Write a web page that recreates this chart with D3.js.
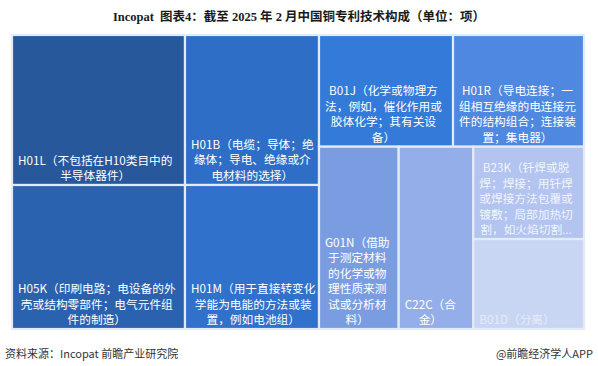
<!DOCTYPE html>
<html>
<head>
<meta charset="utf-8">
<script src="https://cdn.jsdelivr.net/npm/d3@7/dist/d3.min.js"></script>
<style>
  html, body { margin: 0; padding: 0; background: #fff; }
  svg { display: block; }
</style>
</head>
<body>
<svg id="chart" width="598" height="366"></svg>
<script>
// ---- data ----
const titleText = "Incopat  图表4：截至 2025 年 2 月中国铜专利技术构成（单位：项）";
const sourceText = "资料来源：Incopat 前瞻产业研究院";
const brandText = "@前瞻经济学人APP";

const codes = ["H01L", "H05K", "H01B", "H01M", "B01J", "H01R", "G01N", "C22C", "B23K", "B01D"];
const values = [2595, 2491, 2010, 1930, 1497, 1463, 1453, 1360, 1022, 996];
const labelLines = [
  ["H01L（不包括在H10类目中的", "半导体器件）"],
  ["H05K（印刷电路；电设备的外", "壳或结构零部件；电气元件组", "件的制造）"],
  ["H01B（电缆；导体；绝", "缘体；导电、绝缘或介", "电材料的选择）"],
  ["H01M（用于直接转变化", "学能为电能的方法或装", "置，例如电池组）"],
  ["B01J（化学或物理方", "法，例如，催化作用或", "胶体化学；其有关设", "备）"],
  ["H01R（导电连接；一", "组相互绝缘的电连接元", "件的结构组合；连接装", "置；集电器）"],
  ["G01N（借助", "于测定材料", "的化学或物", "理性质来测", "试或分析材", "料）"],
  ["C22C（合", "金）"],
  ["B23K（钎焊或脱", "焊；焊接；用钎焊", "或焊接方法包覆或", "镀敷；局部加热切", "割，如火焰切割..."],
  ["B01D（分离）"]
];
const colors = ["#28589c", "#2b62af", "#2e6ec6", "#2f71cb", "#337ad9", "#4f88e1", "#7a9de2", "#93aee8", "#b2c4ef", "#c9d6f3"];
const textOpacity = [1, 1, 1, 1, 1, 1, 1, 1, 0.85, 0.55];

// ---- layout ----
const svg = d3.select("#chart");
const W = 598, H = 366;
const plot = { x0: 12, y0: 35, x1: 584, y1: 329 };

// squarified tiling with aspect target 0.8 (built from d3 slice/dice)
function tileRef(parent, x0, y0, x1, y1) {
  const ratio = 0.8;
  const nodes = parent.children, n = nodes.length;
  let value = parent.value, i0 = 0, i1 = 0;
  while (i0 < n) {
    const dx = x1 - x0, dy = y1 - y0;
    let sum = nodes[i1++].value, minV = sum, maxV = sum;
    const alpha = Math.max(dy / dx, dx / dy) / (value * ratio);
    let beta = sum * sum * alpha;
    let minR = Math.max(maxV / beta, beta / minV);
    for (; i1 < n; ++i1) {
      const v = nodes[i1].value;
      sum += v;
      const mn = Math.min(minV, v), mx = Math.max(maxV, v);
      beta = sum * sum * alpha;
      const r = Math.max(mx / beta, beta / mn);
      if (r > minR) { sum -= v; break; }
      minV = mn; maxV = mx; minR = r;
    }
    const row = { value: sum, children: nodes.slice(i0, i1) };
    if (dx < dy) {
      const ny = y0 + dy * sum / value;
      d3.treemapDice(row, x0, y0, x1, ny);
      y0 = ny;
    } else {
      const nx = x0 + dx * sum / value;
      d3.treemapSlice(row, x0, y0, nx, y1);
      x0 = nx;
    }
    value -= sum; i0 = i1;
  }
}

const data = {
  name: "root",
  children: codes.map((c, i) => ({ code: c, value: values[i], lines: labelLines[i], color: colors[i], op: textOpacity[i] }))
};
const root = d3.hierarchy(data).sum(d => d.value || 0).sort((a, b) => b.value - a.value);
d3.treemap()
  .tile(tileRef)
  .size([plot.x1 - plot.x0, plot.y1 - plot.y0])
  .round(false)(root);

// title
svg.append("text")
  .attr("x", W / 2).attr("y", 21)
  .attr("text-anchor", "middle")
  .attr("font-family", "'Liberation Serif', 'Noto Sans CJK SC', serif")
  .attr("font-weight", "bold")
  .attr("font-size", 12.5)
  .attr("fill", "#1a1a1a")
  .style("white-space", "pre")
  .text(titleText);

const g = svg.append("g").attr("transform", `translate(${plot.x0},${plot.y0})`);
const cell = g.selectAll("g.cell").data(root.leaves()).join("g").attr("class", "cell");

cell.append("rect")
  .attr("x", d => d.x0).attr("y", d => d.y0)
  .attr("width", d => d.x1 - d.x0).attr("height", d => d.y1 - d.y0)
  .attr("fill", d => d.data.color)
  .attr("stroke", "#e4ebf8")
  .attr("stroke-width", 2.2);

const lineH = 15.5, fs = 11.7, padL = 6, padB = 5;
cell.each(function (d) {
  const sel = d3.select(this);
  const lines = d.data.lines;
  const t = sel.append("text")
    .attr("font-family", "'Noto Sans CJK SC', 'Noto Sans', sans-serif")
    .attr("font-size", fs)
    .attr("fill", "#ffffff")
    .attr("fill-opacity", d.data.op)
    .attr("text-anchor", "middle");
  const spans = lines.map((ln, i) => t.append("tspan").text(ln));
  let maxW = 0;
  spans.forEach(s => { maxW = Math.max(maxW, s.node().getComputedTextLength()); });
  const cx = d.x0 + padL + maxW / 2;
  const lastY = d.y1 - padB;
  spans.forEach((s, i) => {
    s.attr("x", cx).attr("y", lastY - (lines.length - 1 - i) * lineH);
  });
});

// footer
svg.append("text")
  .attr("x", 5).attr("y", 358)
  .attr("font-family", "'Noto Sans CJK SC', sans-serif")
  .attr("font-size", 11)
  .attr("fill", "#333")
  .text(sourceText);
svg.append("text")
  .attr("x", 593).attr("y", 358)
  .attr("text-anchor", "end")
  .attr("font-family", "'Noto Sans CJK SC', sans-serif")
  .attr("font-size", 11)
  .attr("fill", "#333")
  .text(brandText);
</script>
</body>
</html>
